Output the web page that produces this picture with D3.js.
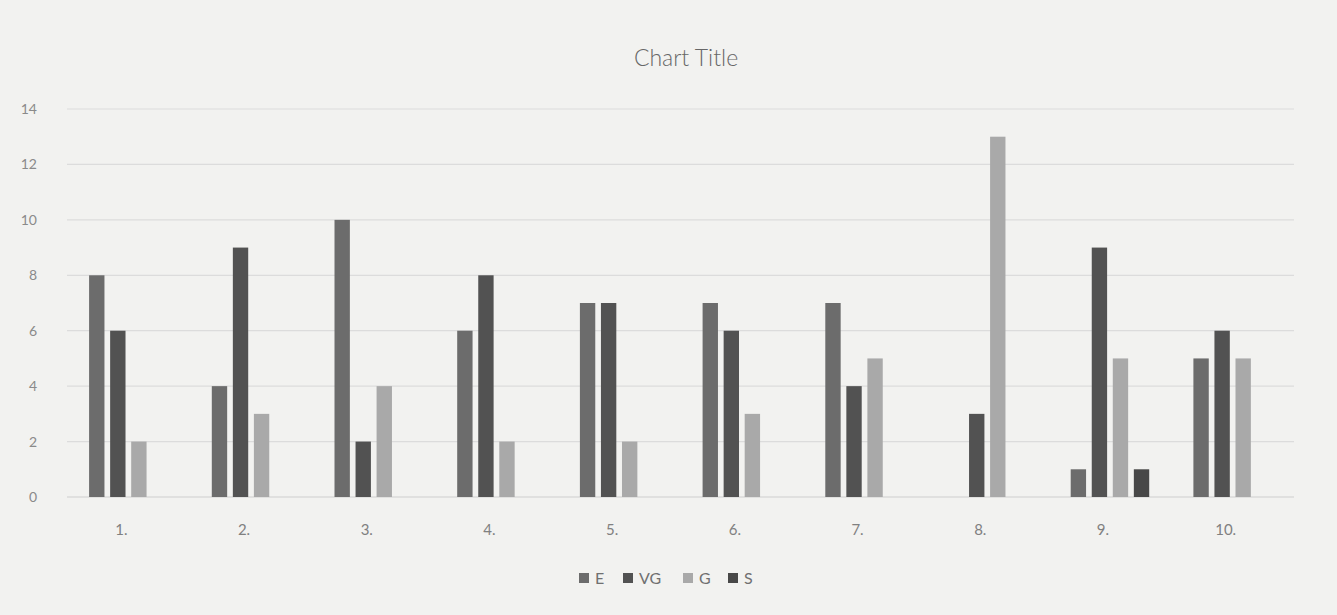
<!DOCTYPE html>
<html><head><meta charset="utf-8">
<script src="https://cdn.jsdelivr.net/npm/d3@7"></script>
<style>
html,body{margin:0;padding:0;background:#f1f1ef;}
svg{display:block;}
text{font-family:Lato,"Open Sans",sans-serif;}
</style></head>
<body>
<svg id="chart" width="1337" height="615"></svg>
<script>
const categories = ["1.","2.","3.","4.","5.","6.","7.","8.","9.","10."];
const seriesNames = ["E","VG","G","S"];
const valuesE  = [8,4,10,6,7,7,7,0,1,5];
const valuesVG = [6,9,2,8,7,6,4,3,9,6];
const valuesG  = [2,3,4,2,2,3,5,13,5,5];
const valuesS  = [0,0,0,0,0,0,0,0,1,0];
const yTicks = [0,2,4,6,8,10,12,14];
const colors = ["#6c6c6c","#525252","#a9a9a9","#484848"];

const seriesValues = [valuesE, valuesVG, valuesG, valuesS];
const svg = d3.select("#chart");
const W = 1337, H = 615;
svg.append("rect").attr("width",W).attr("height",H).attr("fill","#f2f2f0");

const x = d3.scaleBand().domain(categories).range([67,1294]).paddingInner(0).paddingOuter(0);
const y = d3.scaleLinear().domain([0,14]).range([497,109]);
const inner = d3.scaleBand().domain(seriesNames).range([0,x.bandwidth()]).paddingInner(0.27).paddingOuter(1.05);

// gridlines
svg.append("g").selectAll("line").data(yTicks).join("line")
  .attr("x1",x.range()[0]).attr("x2",x.range()[1])
  .attr("y1",d=>y(d)).attr("y2",d=>y(d))
  .attr("stroke",d=>d===0?"#cdcdcd":"#dcdcdc").attr("stroke-width",1.2);

// y axis labels
const yAxis = d3.axisLeft(y).tickValues(yTicks).tickSize(0).tickPadding(18);
const gy = svg.append("g").attr("transform",`translate(${x.range()[0]-12},0)`).call(yAxis);
gy.select(".domain").remove();
gy.selectAll("text").attr("fill","#8a8a8a").style("font-size","14px").style("font-family","Lato,sans-serif");

// bars
const groups = svg.append("g").selectAll("g").data(categories).join("g")
  .attr("transform",d=>`translate(${x(d)},0)`);
groups.selectAll("rect").data((c,i)=>seriesNames.map((s,k)=>({s,k,v:seriesValues[k][i]})))
  .join("rect")
  .attr("x",d=>inner(d.s)).attr("width",inner.bandwidth())
  .attr("y",d=>y(d.v)).attr("height",d=>y(0)-y(d.v))
  .attr("fill",d=>colors[d.k]);

// x axis labels
const xAxis = d3.axisBottom(x).tickSize(0).tickPadding(27);
const gx = svg.append("g").attr("transform",`translate(-7,${y(0)})`).call(xAxis);
gx.select(".domain").remove();
gx.selectAll("text").attr("fill","#808080").style("font-size","15px").style("font-family","Lato,sans-serif");

// title
svg.append("text").attr("x",686).attr("y",66).attr("text-anchor","middle")
  .attr("fill","#676767").style("font-size","23px").style("font-weight","300").text("Chart Title");

// legend
const legendX = [579,623,683,728];
const lg = svg.append("g").selectAll("g").data(seriesNames).join("g")
  .attr("transform",(d,i)=>`translate(${legendX[i]},573)`);
lg.append("rect").attr("width",10).attr("height",10).attr("y",0).attr("fill",(d,i)=>colors[i]);
lg.append("text").attr("x",16).attr("y",11).attr("fill","#707070").style("font-size","16px").text(d=>d);
</script>
</body></html>
